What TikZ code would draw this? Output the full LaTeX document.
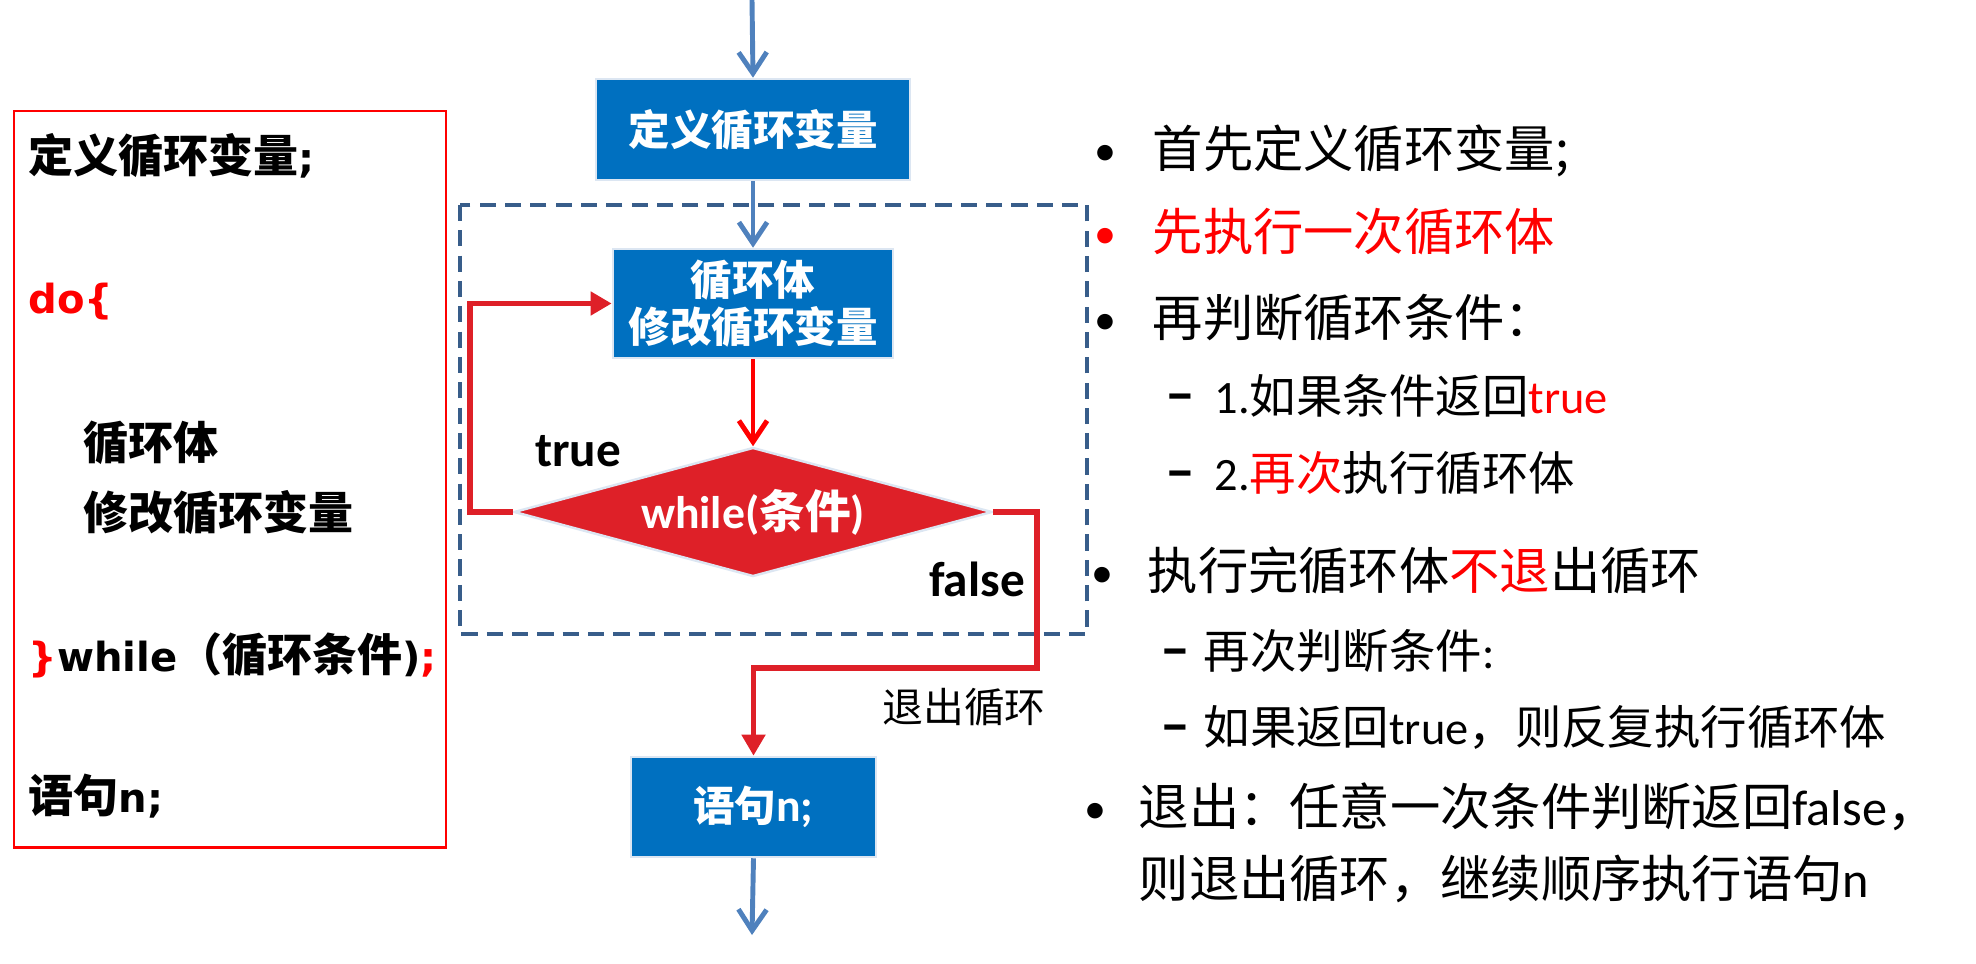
\documentclass[tikz,border=0pt]{standalone}
\usepackage{fontspec}
\setmainfont{Carlito}
\newfontfamily\cj{Noto Sans CJK SC}
\newfontfamily\dv{DejaVu Sans}
\usetikzlibrary{arrows.meta,shapes.geometric}
\definecolor{boxblue}{RGB}{0,112,192}
\definecolor{boxedge}{RGB}{220,230,242}
\definecolor{arrowblue}{RGB}{79,129,189}
\definecolor{dashblue}{RGB}{56,93,138}
\definecolor{loopred}{RGB}{222,32,40}
\definecolor{brightred}{RGB}{255,0,0}
\newcommand\dvb{\dv\bfseries\fontsize{11.4}{14}\selectfont}
\tikzset{
  flowbox/.style={draw=boxedge, line width=0.7pt, fill=boxblue, text=white, inner sep=0pt,
    align=center, font=\cj\bfseries\fontsize{11.8}{13.2}\selectfont},
  bluearrow/.style={draw=arrowblue, line width=1.4pt, -{Straight Barb[length=6pt,width=8pt]}},
  redv/.style={draw=brightred, line width=1.4pt, -{Straight Barb[length=6pt,width=8pt]}},
  redtri/.style={draw=loopred, line width=1.5pt, -{Triangle[length=6pt,width=6.5pt]}},
  dashbox/.style={draw=dashblue, line width=1.4pt, dash pattern=on 4.6pt off 2.6pt},
  lefttext/.style={anchor=west, inner sep=0pt, font=\cj\bfseries\fontsize{12.8}{15}\selectfont},
  rtmain/.style={anchor=base west, inner sep=0pt, font=\cj\fontsize{14.3}{17}\selectfont},
  rtsub/.style={anchor=base west, inner sep=0pt, font=\cj\fontsize{13.2}{15}\selectfont},
  bul/.style={anchor=base west, inner sep=0pt, font=\fontsize{12.5}{15}\selectfont},
  dsh/.style={anchor=base west, inner sep=0pt, font=\bfseries\fontsize{17}{18}\selectfont},
}
\begin{document}
\begin{tikzpicture}[x=0.01cm, y=-0.01cm]
\useasboundingbox (0,0) rectangle (1976,964);

% left code box
\node[draw=brightred, line width=0.6pt, minimum width=4.32cm, minimum height=7.36cm, anchor=north west, inner sep=0pt] (code) at (13,110) {};
\node[lefttext] (c1) at (28,156) {定义循环变量{\dvb;}};
\node[lefttext, text=brightred] (c2) at (28,302) {\dvb do\{};
\node[lefttext] (c3) at (83,443) {循环体};
\node[lefttext] (c4) at (83,513) {修改循环变量};
\node[lefttext] (c5) at (28,655) {{\dvb\color{brightred}\}}{\dvb while}（循环条件{\dvb )}{\dvb\color{brightred};}};
\node[lefttext] (c6) at (28,796) {语句{\dvb n;}};

% flowchart
\draw[dashbox] (460,205) rectangle (1087,634);
\node[flowbox, minimum width=3.14cm, minimum height=1.01cm] (b1) at (753,129.5) {定义循环变量};
\node[flowbox, minimum width=2.80cm, minimum height=1.09cm] (b2) at (753,303.5) {循环体\\修改循环变量};
\node[diamond, shape aspect=3.7, fill=loopred, draw=boxedge, line width=0.7pt, minimum width=4.78cm, minimum height=1.29cm,
      inner sep=0pt, text=white, font=\bfseries\fontsize{13}{15}\selectfont] (d) at (753,512) {while({\cj 条件})};
\node[flowbox, minimum width=2.45cm, minimum height=1.00cm] (b3) at (753.5,807) {语句{\rmfamily\bfseries\fontsize{13}{15}\selectfont n;}};

\coordinate (top) at (752,0);
\coordinate (bot) at (752,935);
\coordinate (tl) at (470,512);
\coordinate (fr) at (1037,512);
\coordinate (fb) at (1037,668);
\draw[bluearrow] (top) -- (b1.north);
\draw[bluearrow] (b1.south) -- (b2.north);
\draw[redv] (b2.south) -- (d.north);
\draw[redtri] (d.west) -- (tl) |- (b2.west);
\draw[redtri] (d.east) -- (fr) -- (fb) -| (b3.north);
\draw[bluearrow] (b3.south) -- (bot);

\node[font=\bfseries\fontsize{14}{16}\selectfont, inner sep=0pt] (lt) at (578,451) {true};
\node[font=\bfseries\fontsize{14}{16}\selectfont, inner sep=0pt] (lf) at (977,579) {false};
\node[font=\cj\fontsize{11.6}{14}\selectfont, inner sep=0pt] (lx) at (964,707) {退出循环};

% right text
\node[bul] (p1) at (1094,166) {•};
\node[rtmain] (t1) at (1152,168) {首先定义循环变量;};
\node[bul, text=brightred] (p2) at (1094,249) {•};
\node[rtmain, text=brightred] (t2) at (1152,251) {先执行一次循环体};
\node[bul] (p3) at (1094,335) {•};
\node[rtmain] (t3) at (1152,337) {再判断循环条件：};
\node[dsh] (s1d) at (1165,414) {–};
\node[rtsub] (s1) at (1214,414) {{\rmfamily 1.}如果条件返回{\rmfamily\color{brightred}true}};
\node[dsh] (s2d) at (1165,490) {–};
\node[rtsub] (s2) at (1214,490) {{\rmfamily 2.}{\color{brightred}再次}执行循环体};
\node[bul] (p4) at (1091,587) {•};
\node[rtmain] (t4) at (1147,589) {执行完循环体{\color{brightred}不退}出循环};
\node[dsh] (s3d) at (1160,668) {–};
\node[rtsub] (s3) at (1203,668) {再次判断条件{\rmfamily :}};
\node[dsh] (s4d) at (1160,744) {–};
\node[rtsub] (s4) at (1203,744) {如果返回{\rmfamily true}，则反复执行循环体};
\node[bul] (p5) at (1084,823) {•};
\node[rtmain] (t5) at (1138,825) {退出：任意一次条件判断返回{\rmfamily false}，};
\node[rtmain] (t6) at (1138,897) {则退出循环，继续顺序执行语句{\rmfamily n}};
\end{tikzpicture}
\end{document}
